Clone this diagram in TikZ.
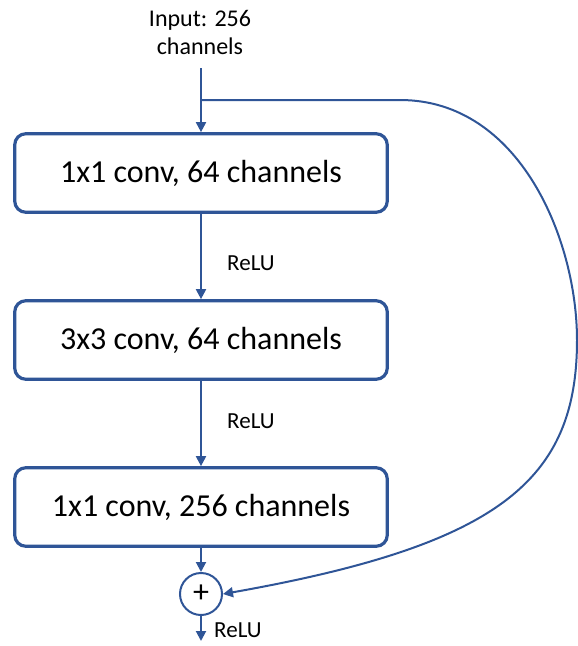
\documentclass[tikz,border=0pt]{standalone}
\usepackage{fontspec}
\setmainfont{Carlito}
\usetikzlibrary{arrows.meta}
\definecolor{lineblue}{HTML}{2F5597}
\begin{document}
\begin{tikzpicture}[x=1pt,y=-1pt,
  box/.style={draw=lineblue,line width=3.2pt,rounded corners=11pt,fill=white,
    minimum width=372.5pt,minimum height=78.5pt,font=\fontsize{32}{38}\selectfont,text=black},
  conn/.style={draw=lineblue,line width=2pt,-{Triangle[width=10pt,length=10pt]}},
  lbl/.style={font=\fontsize{23}{28}\selectfont,text=black,anchor=west,inner sep=0pt},
  sumnode/.style={draw=lineblue,line width=2pt,circle,minimum size=42pt,inner sep=0pt,
    font=\fontsize{32}{36}\selectfont}]
\path[use as bounding box] (0,0) rectangle (578,646);
\node[align=center,font=\fontsize{24}{28}\selectfont,inner sep=0pt] (inp) at (200,32) {Input: 256\\channels};
\coordinate (top) at (201,68);
\coordinate (split) at (201,100);
\node[box] (b1) at (201,173) {1x1 conv, 64 channels};
\node[box] (b2) at (201,340) {3x3 conv, 64 channels};
\node[box] (b3) at (201,507) {1x1 conv, 256 channels};
\node[sumnode] (sum) at (201,594) {+};
\coordinate (out) at (201,641);
\coordinate (bend) at (400,100);
\coordinate (far) at (577,340);
\draw[conn] (top) -- (b1.north);
\draw[conn] (b1.south) -- (b2.north);
\draw[conn] (b2.south) -- (b3.north);
\draw[conn] (b3.south) -- (sum.north);
\draw[conn] (sum.south) -- (out);
\draw[conn] (split) -- (bend) .. controls (520,100) and (577,240) .. (far)
  .. controls (577,480) and (500,545) .. (sum.east);
\node[lbl] (r1) at (227,263) {ReLU};
\node[lbl] (r2) at (227,421) {ReLU};
\node[lbl] (r3) at (214,630) {ReLU};
\end{tikzpicture}
\end{document}
